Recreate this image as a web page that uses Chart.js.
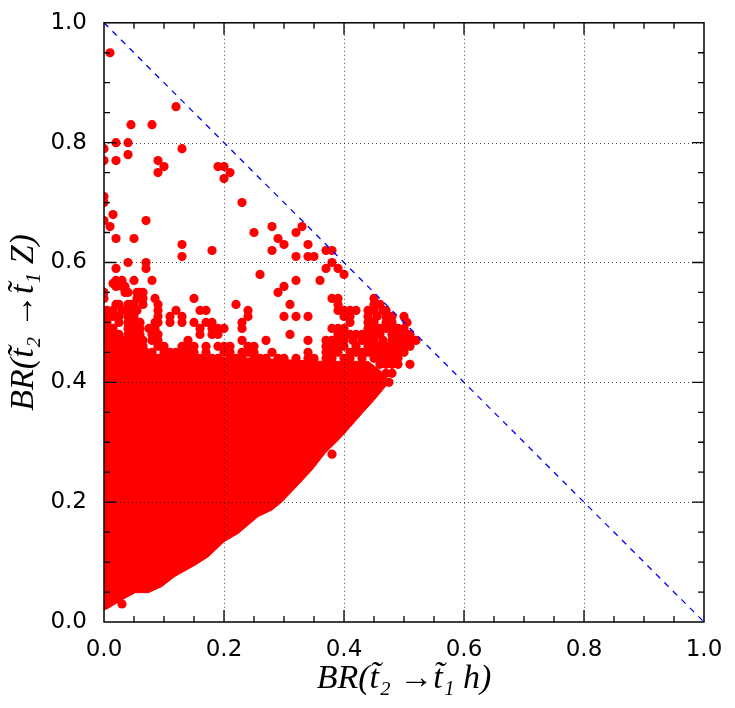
<!DOCTYPE html>
<html>
<head>
<meta charset="utf-8">
<script src="https://cdn.jsdelivr.net/npm/chart.js@4.4.1/dist/chart.umd.min.js"></script>
<style>
  html, body { margin:0; padding:0; background:#fff; }
</style>
</head>
<body>
<canvas id="chart" width="735" height="708"></canvas>
<script>
// axis ticks
const xTicks = [0.0, 0.2, 0.4, 0.6, 0.8, 1.0];
const yTicks = [0.0, 0.2, 0.4, 0.6, 0.8, 1.0];

// outline of the solid (fully covered) part of the cloud
const coreX = [0.0, 0.007, 0.03, 0.052, 0.074, 0.096, 0.118, 0.152, 0.174, 0.2, 0.224, 0.257, 0.28, 0.296, 0.318, 0.346, 0.368, 0.396, 0.43, 0.45, 0.475,
               0.46, 0.44, 0.40, 0.36, 0.25, 0.07, 0.04, 0.0];
const coreY = [0.02, 0.023, 0.037, 0.049, 0.049, 0.059, 0.076, 0.095, 0.109, 0.134, 0.148, 0.176, 0.187, 0.2, 0.223, 0.253, 0.281, 0.309, 0.348, 0.37, 0.40,
               0.42, 0.435, 0.435, 0.435, 0.44, 0.445, 0.46, 0.47];

// isolated points (upper outliers and a couple below the edge)
const outX = [0.01,0.12,0.045,0.08,0.02,0.04,0.0,0.13,0.04,0.0,0.02,0.09,0.10,0.09,0.19,0.20,0.21,0.20,0.0,0.0,0.23,0.015,0.0,0.07,0.01,
  0.25,0.28,0.32,0.33,0.02,0.05,0.29,0.30,0.34,0.13,0.13,0.18,0.28,0.37,0.38,0.32,0.34,0.35,0.04,0.07,0.38,0.07,0.02,0.37,0.39,0.40,0.26,
  0.38,0.03];
const outY = [0.95,0.86,0.83,0.83,0.80,0.80,0.79,0.79,0.78,0.77,0.77,0.77,0.76,0.75,0.76,0.76,0.75,0.74,0.71,0.70,0.70,0.68,0.67,0.67,0.66,
  0.65,0.66,0.65,0.66,0.64,0.64,0.64,0.63,0.63,0.63,0.61,0.62,0.62,0.62,0.62,0.61,0.61,0.61,0.60,0.60,0.60,0.59,0.59,0.59,0.59,0.58,0.58,
  0.28,0.03];

// ragged band above the solid part: one row of points per BR(Z) value
const bandY = [0.57, 0.565, 0.56, 0.55, 0.54, 0.53, 0.52, 0.51, 0.50, 0.49, 0.48, 0.47, 0.46, 0.45, 0.44, 0.43, 0.415, 0.40];
const bandX = [
  [0.02,0.03,0.05,0.08,0.32,0.36],
  [0.015],
  [0.02,0.03,0.035,0.30],
  [0.0,0.035,0.04,0.055,0.06,0.065,0.29],
  [0.0,0.055,0.065,0.085,0.15,0.38,0.39,0.45],
  [0.02,0.025,0.04,0.045,0.05,0.065,0.09,0.22,0.31,0.39,0.45,0.46],
  [0.0,0.005,0.015,0.03,0.04,0.045,0.05,0.055,0.09,0.12,0.16,0.17,0.24,0.39,0.40,0.41,0.42,0.44,0.45,0.465,0.47],
  [0.005,0.015,0.025,0.04,0.05,0.09,0.11,0.13,0.24,0.30,0.32,0.34,0.40,0.41,0.44,0.455,0.47,0.48,0.50],
  [0.005,0.025,0.04,0.05,0.06,0.085,0.09,0.11,0.13,0.15,0.17,0.18,0.23,0.41,0.44,0.45,0.47,0.48,0.505],
  [0.005,0.015,0.04,0.05,0.06,0.075,0.085,0.16,0.18,0.19,0.20,0.23,0.38,0.39,0.40,0.44,0.45,0.46,0.47,0.48,0.49,0.50],
  [0.005,0.015,0.025,0.04,0.05,0.06,0.08,0.09,0.16,0.18,0.19,0.31,0.39,0.40,0.41,0.42,0.43,0.44,0.45,0.46,0.48,0.49,0.50,0.51],
  [0.005,0.015,0.025,0.035,0.045,0.055,0.065,0.08,0.09,0.14,0.23,0.27,0.34,0.37,0.38,0.39,0.40,0.415,0.43,0.44,0.45,0.465,0.48,0.49,0.50,0.51,0.52],
  [0.005,0.015,0.025,0.035,0.045,0.055,0.065,0.09,0.10,0.13,0.14,0.15,0.17,0.19,0.20,0.21,0.24,0.25,0.37,0.38,0.39,0.40,0.42,0.44,0.45,0.46,0.47,0.48,0.49,0.50,0.51],
  [0.005,0.015,0.025,0.035,0.045,0.055,0.065,0.07,0.08,0.10,0.11,0.12,0.13,0.14,0.15,0.17,0.20,0.21,0.23,0.24,0.25,0.28,0.34,0.37,0.38,0.39,0.41,0.42,0.43,0.44,0.45,0.46,0.47,0.48,0.49,0.50],
  [0.08,0.09,0.11,0.12,0.14,0.15,0.16,0.18,0.19,0.21,0.22,0.23,0.25,0.26,0.27,0.29,0.30,0.32,0.34,0.35,0.37,0.38,0.40,0.41,0.43,0.45,0.46,0.47,0.48,0.49],
  [0.43,0.46,0.47,0.48,0.49,0.51],
  [0.44,0.47,0.48],
  [0.45,0.465,0.475]
];

// the BR(h) + BR(Z) = 1 diagonal
const diagX = [0, 1];
const diagY = [1, 0];

const toXY = (xs, ys) => xs.map((x, i) => ({x: x, y: ys[i]}));
const bandPts = bandY.flatMap((y, r) => bandX[r].map(x => ({x: x, y: y})));
const dots = toXY(outX, outY).concat(bandPts);

// frame, dotted grid and inward ticks drawn above the points, like the original
const framePlugin = {
  id: "frame",
  afterDatasetsDraw(chart){
    const {ctx, chartArea: a, scales:{x, y}} = chart;
    ctx.save();
    ctx.strokeStyle = "rgba(0,0,0,0.7)";
    ctx.lineWidth = 1;
    ctx.setLineDash([1, 3]);
    xTicks.slice(1, -1).forEach(v=>{
      const px = Math.round(x.getPixelForValue(v)) + 0.5;
      ctx.beginPath(); ctx.moveTo(px, a.top); ctx.lineTo(px, a.bottom); ctx.stroke();
    });
    yTicks.slice(1, -1).forEach(v=>{
      const py = Math.round(y.getPixelForValue(v)) + 0.5;
      ctx.beginPath(); ctx.moveTo(a.left, py); ctx.lineTo(a.right, py); ctx.stroke();
    });
    ctx.setLineDash([]);
    ctx.strokeStyle = "#000";
    ctx.lineWidth = 1.3;
    for(let k = 1; k < 20; k++){
      const v = k / 20;
      const len = (k % 4 === 0) ? 12 : 6;
      const px = x.getPixelForValue(v), py = y.getPixelForValue(v);
      ctx.beginPath();
      ctx.moveTo(px, a.bottom); ctx.lineTo(px, a.bottom - len);
      ctx.moveTo(px, a.top); ctx.lineTo(px, a.top + len);
      ctx.moveTo(a.left, py); ctx.lineTo(a.left + len, py);
      ctx.moveTo(a.right, py); ctx.lineTo(a.right - len, py);
      ctx.stroke();
    }
    ctx.lineWidth = 1.5;
    ctx.strokeRect(a.left, a.top, a.right - a.left, a.bottom - a.top);
    ctx.restore();
  }
};

new Chart(document.getElementById("chart"), {
  type: "scatter",
  data: {
    datasets: [
      { data: toXY(diagX, diagY), showLine: true, borderColor: "#0000ff", borderWidth: 1.3,
        borderDash: [6, 6], pointRadius: 0, order: 0, clip: 0 },
      { data: dots, backgroundColor: "#ff0000", borderColor: "#ff0000", borderWidth: 0,
        pointRadius: 4.6, order: 1, clip: 0 },
      { data: toXY(coreX, coreY), showLine: true, fill: "shape", backgroundColor: "#ff0000",
        borderColor: "#ff0000", borderWidth: 1, pointRadius: 0, tension: 0, order: 2, clip: 0 }
    ]
  },
  options: {
    responsive: false, animation: false, devicePixelRatio: 1,
    layout: { padding: { left: 0, top: 22, right: 31, bottom: 0 } },
    plugins: { legend: { display: false }, tooltip: { enabled: false } },
    scales: {
      x: {
        min: 0, max: 1,
        afterFit: s => { s.height = 86; },
        afterBuildTicks: s => { s.ticks = xTicks.map(v => ({value: v})); },
        grid: { display: false }, border: { display: false },
        ticks: { color: "#000", padding: 6, font: { family: "DejaVu Sans", size: 23 },
                 callback: v => v.toFixed(1), maxRotation: 0 },
        title: { display: true, text: "BR(t\u0303\u2082 \u2192t\u0303\u2081 h)", color: "#000",
                 font: { family: "Liberation Serif", size: 34, style: "italic" }, padding: { top: 0, bottom: 9 } }
      },
      y: {
        min: 0, max: 1,
        afterFit: s => { s.width = 104; },
        afterBuildTicks: s => { s.ticks = yTicks.map(v => ({value: v})); },
        grid: { display: false }, border: { display: false },
        ticks: { color: "#000", padding: 9, font: { family: "DejaVu Sans", size: 23 },
                 callback: v => v.toFixed(1) },
        title: { display: true, text: "BR(t\u0303\u2082 \u2192t\u0303\u2081 Z)", color: "#000",
                 font: { family: "Liberation Serif", size: 34, style: "italic" }, padding: { top: 4, bottom: 0 } }
      }
    }
  },
  plugins: [framePlugin]
});
</script>
</body>
</html>
